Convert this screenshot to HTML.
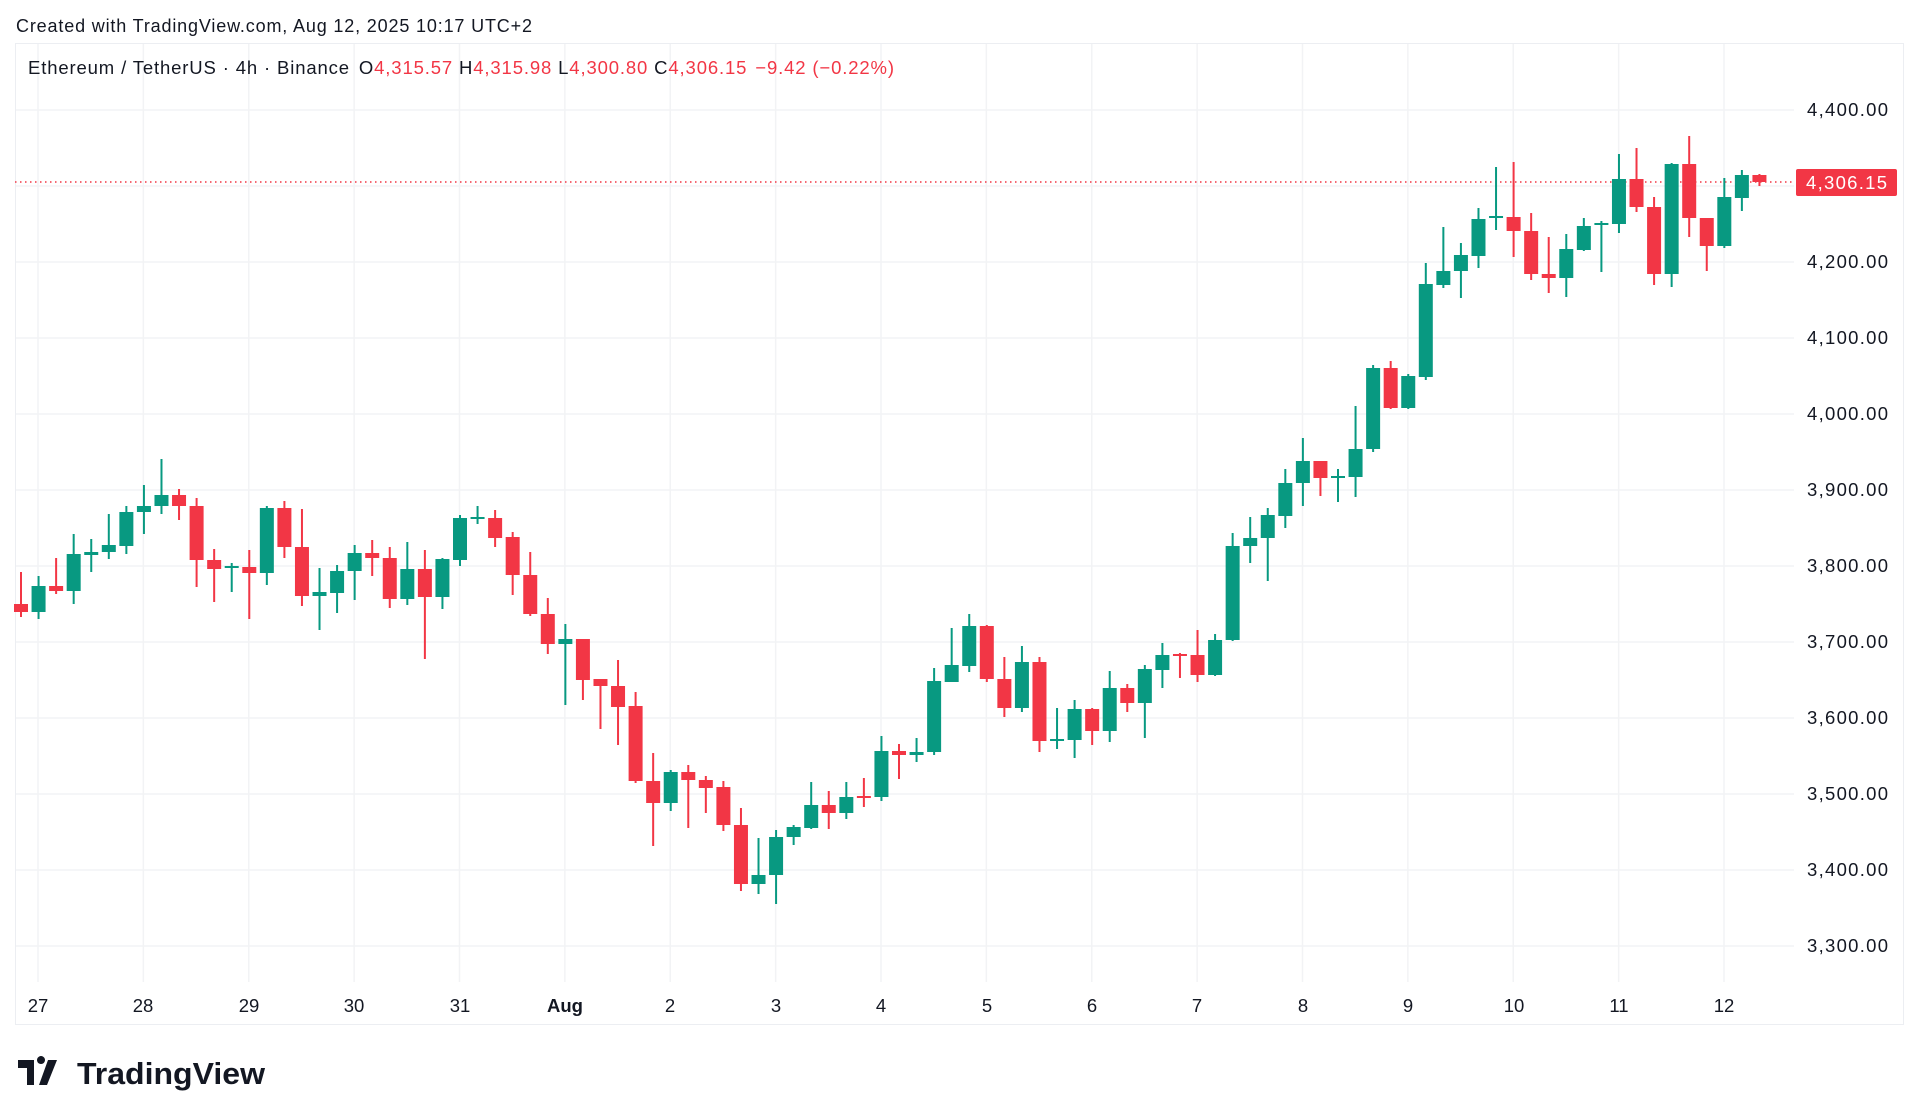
<!DOCTYPE html>
<html><head><meta charset="utf-8"><style>
html,body{margin:0;padding:0;background:#fff;width:1920px;height:1120px;overflow:hidden;font-family:"Liberation Sans",sans-serif;color:#131722}
svg{position:absolute;left:0;top:0}
</style></head><body>
<svg id="s" width="1920" height="1120" xmlns="http://www.w3.org/2000/svg" font-family="Liberation Sans, sans-serif">
<rect x="15.5" y="43.5" width="1888" height="981" fill="none" stroke="#eceef2"/>
<g id="grid" stroke="#f2f3f5" stroke-width="1.5"></g>
<text x="16" y="32" font-size="18" fill="#131722" textLength="516" lengthAdjust="spacing">Created with TradingView.com, Aug 12, 2025 10:17 UTC+2</text>
<text x="28" y="74" font-size="18.5" fill="#131722" textLength="866" lengthAdjust="spacing">Ethereum / TetherUS · 4h · Binance <tspan dx="3">O</tspan><tspan fill="#F23645">4,315.57</tspan><tspan dx="6">H</tspan><tspan fill="#F23645">4,315.98</tspan><tspan dx="6">L</tspan><tspan fill="#F23645">4,300.80</tspan><tspan dx="6">C</tspan><tspan fill="#F23645">4,306.15</tspan><tspan dx="8" fill="#F23645">−9.42 (−0.22%)</tspan></text>
<g font-size="18.5" fill="#131722">
<text x="1807" y="116" textLength="81" lengthAdjust="spacing">4,400.00</text>
<text x="1807" y="268" textLength="81" lengthAdjust="spacing">4,200.00</text>
<text x="1807" y="344" textLength="81" lengthAdjust="spacing">4,100.00</text>
<text x="1807" y="420" textLength="81" lengthAdjust="spacing">4,000.00</text>
<text x="1807" y="496" textLength="81" lengthAdjust="spacing">3,900.00</text>
<text x="1807" y="572" textLength="81" lengthAdjust="spacing">3,800.00</text>
<text x="1807" y="648" textLength="81" lengthAdjust="spacing">3,700.00</text>
<text x="1807" y="724" textLength="81" lengthAdjust="spacing">3,600.00</text>
<text x="1807" y="800" textLength="81" lengthAdjust="spacing">3,500.00</text>
<text x="1807" y="876" textLength="81" lengthAdjust="spacing">3,400.00</text>
<text x="1807" y="952" textLength="81" lengthAdjust="spacing">3,300.00</text>
</g>
<g font-size="18.5" fill="#131722" text-anchor="middle">
<text x="38" y="1012">27</text><text x="143" y="1012">28</text><text x="249" y="1012">29</text><text x="354" y="1012">30</text><text x="460" y="1012">31</text><text x="565" y="1012" font-weight="bold">Aug</text><text x="670" y="1012">2</text><text x="776" y="1012">3</text><text x="881" y="1012">4</text><text x="987" y="1012">5</text><text x="1092" y="1012">6</text><text x="1197" y="1012">7</text><text x="1303" y="1012">8</text><text x="1408" y="1012">9</text><text x="1514" y="1012">10</text><text x="1619" y="1012">11</text><text x="1724" y="1012">12</text>
</g>
<line x1="15" y1="182" x2="1794" y2="182" stroke="#F23645" stroke-width="1.5" stroke-dasharray="1.5 3.5"/>
<g id="c"></g>
<rect x="1796" y="169" width="101" height="27" rx="2" fill="#F23645"/>
<text x="1806" y="189" font-size="18.5" fill="#fff" textLength="81" lengthAdjust="spacing">4,306.15</text>
<g transform="translate(18,1060)" fill="#131722">
<path d="M0 0h16v25h-7v-17h-9z M19 0a4 4 0 1 1 0 .1z M30 0h9l-10 25h-8z"/>
<text x="59" y="24" font-size="31" font-weight="bold" textLength="188" lengthAdjust="spacingAndGlyphs">TradingView</text>
</g>
</svg>
<script>
var g=document.getElementById('grid'),s='';
for(var k=0;k<=16;k++){var x=38+k*105.375;s+='<line x1="'+x+'" y1="44" x2="'+x+'" y2="982"/>';}
for(var p=0;p<=11;p++){var y=110+p*76;s+='<line x1="16" y1="'+y+'" x2="1794" y2="'+y+'"/>';}
g.innerHTML=s;
var d=[
[604,612,572,617,'r'],[586,612,576,619,'g'],[586,591,558,594,'r'],[554,591,534,604,'g'],[552,555,539,572,'g'],[545,552,514,559,'g'],[512,546,506,554,'g'],[506,512,485,534,'g'],[495,506,459,514,'g'],[495,506,489,520,'r'],
[506,560,498,587,'r'],[560,569,549,602,'r'],[566,568,563,592,'g'],[567,573,550,619,'r'],[508,573,506,585,'g'],[508,547,501,558,'r'],[547,596,509,606,'r'],[592,596,568,630,'g'],[571,593,565,613,'g'],[553,571,545,600,'g'],
[553,558,540,576,'r'],[558,599,547,608,'r'],[569,599,542,605,'g'],[569,597,550,659,'r'],[559,597,558,609,'g'],[518,560,515,566,'g'],[517,519,506,524,'g'],[518,538,510,547,'r'],[537,575,532,595,'r'],[575,614,552,616,'r'],
[614,644,598,654,'r'],[639,644,624,705,'g'],[639,680,639,700,'r'],[679,686,679,729,'r'],[686,707,660,745,'r'],[706,781,692,783,'r'],[781,803,753,846,'r'],[772,803,770,811,'g'],[772,780,765,828,'r'],[780,788,776,813,'r'],
[787,825,781,831,'r'],[825,884,808,891,'r'],[875,884,838,894,'g'],[837,875,830,904,'g'],[827,837,825,845,'g'],[805,828,782,829,'g'],[805,813,791,829,'r'],[797,813,782,819,'g'],[796,797,778,807,'r'],[751,797,736,801,'g'],
[751,755,744,779,'r'],[752,755,738,762,'g'],[681,752,668,755,'g'],[665,682,628,682,'g'],[626,666,614,672,'g'],[626,679,625,682,'r'],[679,708,657,717,'r'],[662,708,646,712,'g'],[662,741,657,752,'r'],[739,740,708,749,'g'],
[709,740,700,758,'g'],[709,731,708,745,'r'],[688,731,671,742,'g'],[688,703,684,712,'r'],[669,703,665,738,'g'],[655,670,643,688,'g'],[654,655,653,678,'r'],[655,675,630,682,'r'],[640,675,634,676,'g'],[546,640,533,641,'g'],
[538,546,517,563,'g'],[515,538,508,581,'g'],[483,516,469,528,'g'],[461,483,438,506,'g'],[461,478,461,496,'r'],[476,477,469,502,'g'],[449,477,406,497,'g'],[368,449,365,452,'g'],[368,408,361,409,'r'],[376,408,374,409,'g'],
[284,377,263,380,'g'],[271,285,227,288,'g'],[255,271,243,298,'g'],[219,256,208,268,'g'],[216,217,167,230,'g'],[217,231,162,257,'r'],[231,274,213,280,'r'],[274,278,237,293,'r'],[249,278,234,297,'g'],[226,250,218,251,'g'],
[223,224,221,272,'g'],[179,224,154,233,'g'],[179,207,148,212,'r'],[207,274,197,285,'r'],[164,274,163,287,'g'],[164,218,136,237,'r'],[218,246,218,271,'r'],[197,246,178,248,'g'],[175,198,170,211,'g'],[175,182,174,186,'r']
];
var h='';
for(var i=0;i<d.length;i++){var c=d[i],x=21+i*17.56,col=c[4]=='g'?'#089981':'#F23645';
var bh=Math.max(2,c[1]-c[0]);
h+='<rect x="'+(x-1)+'" y="'+c[2]+'" width="2" height="'+(c[3]-c[2])+'" fill="'+col+'"/>';
h+='<rect x="'+(x-7)+'" y="'+c[0]+'" width="14" height="'+bh+'" fill="'+col+'"/>';}
document.getElementById('c').innerHTML=h;
</script>
</body></html>
